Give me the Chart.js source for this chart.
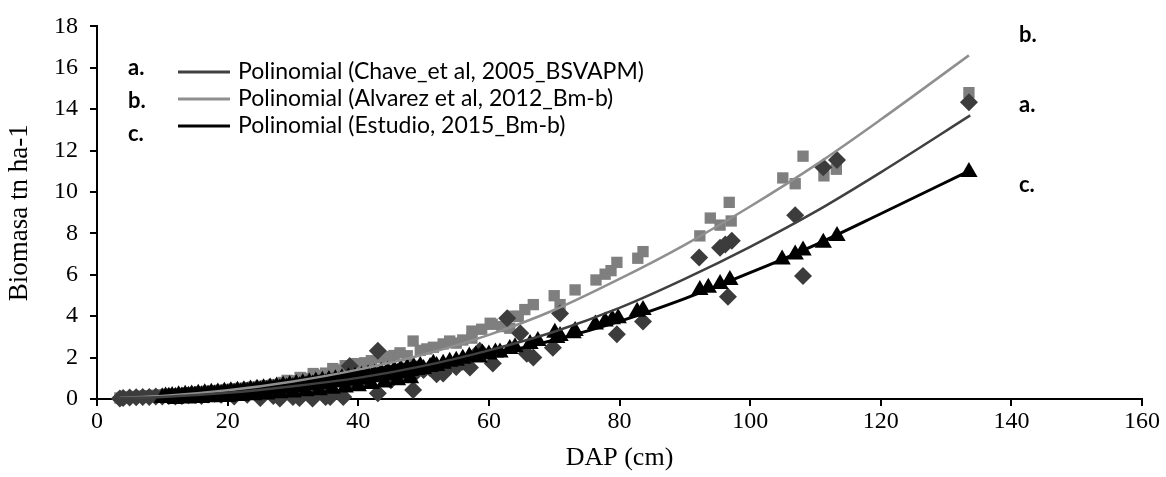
<!DOCTYPE html>
<html>
<head>
<meta charset="utf-8">
<script src="https://cdn.jsdelivr.net/npm/chart.js@4.4.1/dist/chart.umd.min.js"></script>
<style>
  html, body { margin: 0; padding: 0; background: #fff; }
  #wrap { width: 1166px; height: 477px; }
</style>
</head>
<body>
<div id="wrap"><canvas id="c" width="1166" height="477"></canvas></div>
<script>
// ---------- Data ----------
const xTicksStep = 20;
const yTicksStep = 2;

// a. Chave et al. 2005 (diamonds)
const chaveX = [3.5,4,5,6,7,8,9,10,11,12,13,14,15,16,17,18,19,20,21,22,23,24,25,26,27,28,29,30,31,32,33,34,35,35.7,36.1,37.7,38.7,39,40,41,42,43,43,44,45,46,47,48.4,49,50,51,52,53,54,55,56,57.1,58.6,60.6,62.8,64.8,65.8,66.8,69.8,70.9,79.6,83.6,92.2,95.4,96.2,97.2,96.6,106.9,108.1,111.2,113.3,133.5];
const chaveY = [0.03,0.05,0.07,0.08,0.1,0.1,0.12,0.12,0.15,0.12,0.15,0.18,0.2,0.15,0.22,0.25,0.2,0.3,0.12,0.35,0.2,0.4,0.05,0.45,0.15,0.02,0.55,0.1,0.05,0.6,0.02,0.7,0.1,0.1,0.33,0.1,1.6,0.85,0.9,0.95,1.05,2.33,0.28,1.15,0.9,1.3,1.2,0.43,1.35,1.4,1.5,1.2,1.23,1.6,1.55,1.8,1.52,2.33,1.71,3.9,3.18,2.18,2.0,2.47,4.13,3.13,3.75,6.84,7.31,7.46,7.64,4.94,8.88,5.94,11.2,11.54,14.34];

// b. Alvarez et al. 2012 (squares)
const alvarezX = [3.5,4,4.5,5,5.5,6,6.5,7,7.5,8,8.5,9,9.5,10,10.5,11,12,13,14,15,16,17,18,19,20,21,22,23,24,25,26,27,28.5,29.1,30,31.1,32,33.1,34,35,36.1,37,38,38.3,39.8,41,42,43.3,44.5,45.5,46.4,47.5,48.4,49.5,50.5,51.5,53,54,55,56,57.4,57.4,58.9,60.2,60.5,62,63.2,63.7,64.5,65.5,66.8,70,70.9,73.2,76.4,77.8,78.7,79.6,82.8,83.6,92.3,93.9,95.4,96.8,97.1,105,106.9,108.1,111.3,113.2,133.5];
const alvarezY = [0.05,0.08,0.06,0.1,0.08,0.12,0.1,0.14,0.12,0.16,0.14,0.18,0.15,0.2,0.17,0.22,0.25,0.27,0.3,0.32,0.35,0.38,0.4,0.43,0.46,0.49,0.52,0.55,0.58,0.62,0.65,0.7,0.8,0.9,0.88,1.04,1.0,1.23,1.15,1.25,1.47,1.4,1.61,1.55,1.71,1.75,1.85,1.99,2.05,2.1,2.23,2.09,2.8,2.35,2.42,2.5,2.66,2.8,2.7,2.85,2.94,3.28,3.37,3.66,3.61,3.5,3.42,4.0,3.99,4.32,4.56,4.99,4.56,5.27,5.75,6.03,6.2,6.6,6.8,7.12,7.88,8.74,8.4,9.5,8.6,10.68,10.4,11.73,10.78,11.1,14.8];

// c. Estudio 2015 (triangles)
const estudioX = [10,10.5,11,11.5,12,12.5,13,13.5,14,14.5,15,15.5,16,16.5,17,17.5,18,18.5,19,19.5,20,20.5,21,21.5,22,22.5,23,23.5,24,24.5,25,25.5,26,26.5,27,27.5,28,28.5,29,29.5,30,30.5,31,31.5,32,32.5,33,33.5,34,34.5,35,35.5,36,36.5,37,37.5,38,38.5,39,39.5,40,40.5,41,41.5,42,42.5,43,43.5,44,44.5,45,45.5,46,46.5,47,47.5,48,48.5,49,49.5,50,51,51.5,52,53,54,55,56,57,58,58.5,59,60,61,12,14,16,18,20,22,24,26,28,30,32,34,36,38,40,42,44,46,48,61.7,63.2,64,66.3,67.5,70.1,70.4,70.9,72.9,73.2,76.3,77.8,78.9,79.8,82.7,83.6,92.3,93.6,95.4,96.9,104.9,106.9,108.1,111.2,113.3,133.5];
const estudioY = [0.05,0.12,0.08,0.15,0.1,0.18,0.12,0.2,0.14,0.22,0.16,0.25,0.18,0.28,0.2,0.3,0.22,0.32,0.24,0.35,0.28,0.38,0.3,0.4,0.32,0.42,0.36,0.46,0.38,0.5,0.42,0.52,0.45,0.56,0.48,0.6,0.52,0.64,0.55,0.68,0.58,0.72,0.62,0.76,0.66,0.8,0.7,0.84,0.72,0.88,0.76,0.92,0.8,0.96,0.84,1.0,0.88,1.05,0.92,1.08,0.96,1.12,1.0,1.18,1.05,1.22,1.1,1.3,1.15,1.35,1.2,1.4,1.25,1.45,1.3,1.5,1.35,1.55,1.4,1.6,1.45,1.55,1.7,1.6,1.7,1.8,1.85,1.95,2.05,2.1,2.0,2.2,2.15,2.25,0.0,0.02,0.05,0.08,0.1,0.14,0.18,0.22,0.28,0.32,0.38,0.42,0.5,0.55,0.62,0.72,0.8,0.9,1.0,2.25,2.42,2.5,2.66,2.8,3.2,2.95,3.04,3.18,3.28,3.6,3.75,3.85,3.9,4.22,4.3,5.27,5.37,5.56,5.75,6.74,6.98,7.17,7.55,7.88,10.97];

// Polynomial trend lines
const chaveLineX = [3.5,10,20,30,40,50,60,70,80,90,100,110,120,133.7];
const chaveLineY = [0.05,0.1,0.3,0.62,1.02,1.6,2.35,3.25,4.4,5.8,7.35,9.05,10.95,13.7];
const alvarezLineX = [3.5,10,20,30,40,50,60,70,80,90,100,110,120,133.5];
const alvarezLineY = [0.06,0.14,0.42,0.85,1.42,2.15,3.1,4.3,5.8,7.45,9.3,11.3,13.5,16.6];
const estudioLineX = [10,20,30,40,50,60,70,80,90,100,110,120,133.4];
const estudioLineY = [0.08,0.3,0.6,0.97,1.45,2.1,2.85,3.75,4.85,6.1,7.45,8.95,11.0];

const legendLabels = [
  'Polinomial (Chave_et al, 2005_BSVAPM)',
  'Polinomial (Alvarez et al, 2012_Bm-b)',
  'Polinomial (Estudio, 2015_Bm-b)'
];
const legendTags = ['a.', 'b.', 'c.'];
const sideTags = ['b.', 'a.', 'c.'];

// ---------- Build ----------
const pts = (xs, ys) => xs.map((x, i) => ({ x: x, y: ys[i] }));

const COL_A = '#3c3c3c', COL_B = '#7f7f7f', COL_C = '#000000';
const LINE_A = '#404040', LINE_B = '#8f8f8f', LINE_C = '#000000';

const legendPlugin = {
  id: 'customLegend',
  afterDraw(chart) {
    const ctx = chart.ctx;
    ctx.save();
    const rowsY = [72, 99, 126];
    const tagY = [75, 108, 141];
    const cols = [LINE_A, LINE_B, LINE_C];
    ctx.fillStyle = '#000';
    ctx.font = 'bold 22px Lato';
    ctx.textBaseline = 'alphabetic';
    ctx.textAlign = 'left';
    legendTags.forEach((t, i) => ctx.fillText(t, 128, tagY[i]));
    legendLabels.forEach((t, i) => {
      ctx.strokeStyle = cols[i];
      ctx.lineWidth = 3;
      ctx.beginPath();
      ctx.moveTo(178, rowsY[i]);
      ctx.lineTo(230, rowsY[i]);
      ctx.stroke();
      ctx.font = '23px Lato';
      ctx.textBaseline = 'middle';
      ctx.fillStyle = '#000';
      ctx.fillText(t, 238, rowsY[i]);
    });
    ctx.font = 'bold 22px Lato';
    ctx.textBaseline = 'alphabetic';
    ctx.fillStyle = '#000';
    const sideY = [42, 112, 192];
    sideTags.forEach((t, i) => ctx.fillText(t, 1019, sideY[i]));
    ctx.restore();
  }
};

const serif = 'Liberation Serif';

new Chart(document.getElementById('c'), {
  type: 'scatter',
  data: {
    datasets: [
      { label: 'line a', type: 'line', data: pts(chaveLineX, chaveLineY), borderColor: LINE_A, borderWidth: 2.5, pointRadius: 0, cubicInterpolationMode: 'monotone', fill: false, order: 0 },
      { label: 'line b', type: 'line', data: pts(alvarezLineX, alvarezLineY), borderColor: LINE_B, borderWidth: 2.5, pointRadius: 0, cubicInterpolationMode: 'monotone', fill: false, order: 0 },
      { label: 'line c', type: 'line', data: pts(estudioLineX, estudioLineY), borderColor: LINE_C, borderWidth: 3, pointRadius: 0, cubicInterpolationMode: 'monotone', fill: false, order: 0 },
      { label: 'c', data: pts(estudioX, estudioY), pointStyle: 'triangle', pointRadius: 10, backgroundColor: COL_C, borderColor: COL_C, borderWidth: 0, order: 1, clip: false },
      { label: 'a', data: pts(chaveX, chaveY), pointStyle: 'rectRot', pointRadius: 9, backgroundColor: COL_A, borderColor: COL_A, borderWidth: 0, order: 2, clip: false },
      { label: 'b', data: pts(alvarezX, alvarezY), pointStyle: 'rect', pointRadius: 8, backgroundColor: COL_B, borderColor: COL_B, borderWidth: 0, order: 3, clip: false }
    ]
  },
  options: {
    responsive: false,
    animation: false,
    events: [],
    layout: { padding: { top: 20, right: 24, left: 0, bottom: 0 } },
    plugins: { legend: { display: false }, tooltip: { enabled: false } },
    scales: {
      x: {
        type: 'linear', min: 0, max: 160,
        ticks: { stepSize: xTicksStep, color: '#000', font: { family: serif, size: 24 }, padding: 1, maxRotation: 0 },
        grid: { drawOnChartArea: false, color: '#000', lineWidth: 2, tickLength: 7 },
        border: { color: '#000', width: 2 },
        title: { display: true, text: 'DAP (cm)', color: '#000', font: { family: serif, size: 26 }, padding: { top: 0, bottom: 3 } },
        afterFit(s) { s.height = 78; }
      },
      y: {
        type: 'linear', min: 0, max: 18,
        ticks: { stepSize: yTicksStep, color: '#000', font: { family: serif, size: 24 }, padding: 12 },
        grid: { drawOnChartArea: false, color: '#000', lineWidth: 2, tickLength: 7 },
        border: { color: '#000', width: 2 },
        title: { display: true, text: 'Biomasa tn ha-1', color: '#000', font: { family: serif, size: 27 }, padding: { top: 4, bottom: 0 } },
        afterFit(s) { s.width = 97; }
      }
    }
  },
  plugins: [legendPlugin]
});
</script>
</body>
</html>
